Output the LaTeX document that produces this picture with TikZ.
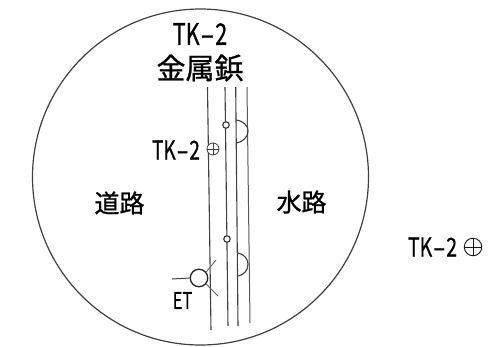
\documentclass[tikz,border=0pt]{standalone}
\usepackage{graphicx}
\usepackage{fontspec}
\setmainfont{Noto Sans CJK JP}
\newfontfamily\medfont[FakeBold=0.85]{Noto Sans CJK JP}
\newfontfamily\latfont[FakeBold=0.9]{Noto Sans CJK JP}
\newcommand{\tkname}{TK\kern.03em\scalebox{1.9}[1]{-}\kern.03em 2}
\tikzset{
  wire/.style={line width=1.1pt,draw=black!75},
  thin wire/.style={line width=1pt,draw=black!65},
  lab/.style={inner sep=0pt,text=black},
  big/.style={lab,font=\fontsize{30}{30}\latfont},
  mid/.style={lab,font=\fontsize{29}{29}\medfont},
  road/.style={lab,font=\fontsize{25}{25}\medfont},
  tag/.style={lab,font=\fontsize{26}{26}\latfont},
  joint/.style={circle,draw=black!80,fill=white,line width=1.1pt,minimum size=6.5pt,inner sep=0pt},
}
\begin{document}
\begin{tikzpicture}[x=1pt,y=-1pt]
\useasboundingbox (0,0) rectangle (503,346);
\fill[white] (0,0) rectangle (503,346);
\draw[line width=1.2pt,black!75] (200.5,177) circle (168);
% wires
\draw[wire] (207.5,87) -- (211,330);
\draw[wire] (225,87) -- (228,326);
\draw[wire] (235.7,87) -- (238,326);
\draw[thin wire] (247,87) -- (250,323);
% joints
\node[joint] (j1) at (226,125) {};
\node[joint] (j2) at (227,239) {};
% arcs
\draw[wire] (236,120) .. controls (244,121) and (248,126) .. (248,131) .. controls (248,137) and (243,142) .. (236.3,143);
\draw[wire] (238,253) .. controls (244,254) and (248,259) .. (248,264) .. controls (248,270) and (244,275) .. (238.3,276);
% ET pole
\node[circle,draw=black!85,line width=1.3pt,minimum size=17.5pt,inner sep=0pt] (et) at (199,278) {};
\coordinate (etl) at (172,279);
\draw[line width=1pt,black!75] (etl) -- (et.west);
\draw[line width=0.9pt,black!60] (et.40) -- (216,260);
\draw[line width=0.9pt,black!60] (et.-40) -- (218,296);
% marks
\node[circle,draw=black!75,fill=white,line width=0.8pt,minimum size=12pt,inner sep=0pt] (m1) at (213,149) {};
\draw[line width=0.7pt,black!75] (m1.west) -- (m1.east) (m1.north) -- (m1.south);
\node[circle,draw=black!90,line width=0.9pt,minimum size=17.5pt,inner sep=0pt] (m2) at (473,247) {};
\draw[line width=0.8pt,black!90] (m2.west) -- (m2.east) (m2.north) -- (m2.south);
% text
\node[big,xscale=.72] (t1) at (200,34) {\tkname};
\node[mid] (t2) at (200,68) {金属鋲};
\node[tag,xscale=.73] (t3) at (176,150) {\tkname};
\node[road] (t4) at (119.5,203) {道路};
\node[road] (t5) at (301.5,202) {水路};
\node[lab,font=\fontsize{23}{23}\medfont,xscale=.72] (t6) at (182.5,300.5) {ET};
\node[tag,xscale=.75] (t7) at (432.5,247) {\tkname};
\end{tikzpicture}
\end{document}
